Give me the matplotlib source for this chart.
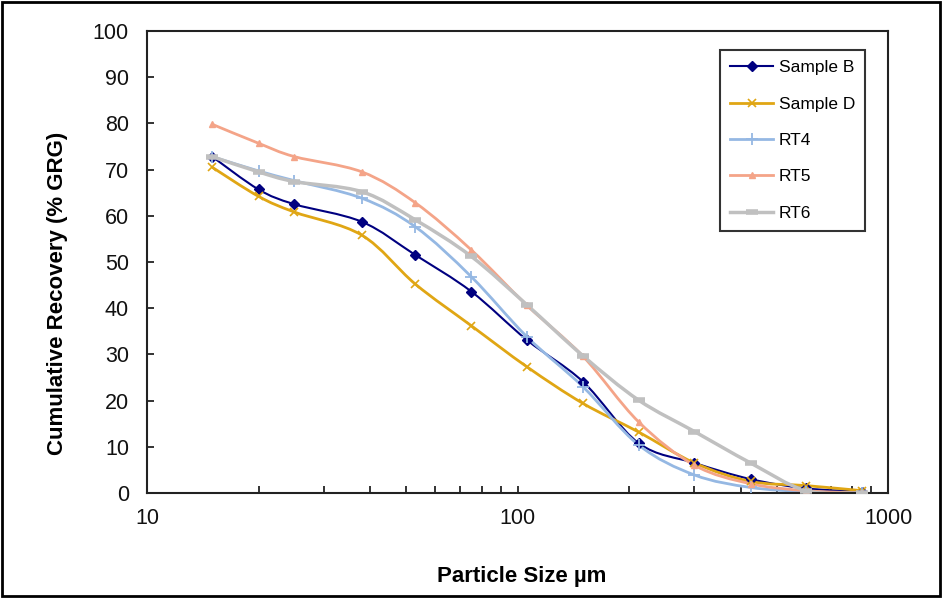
import matplotlib
matplotlib.use('Agg')
import matplotlib.pyplot as plt
import numpy as np
from matplotlib.path import Path
from matplotlib.patches import PathPatch, Rectangle
from matplotlib.lines import Line2D
from matplotlib.ticker import FuncFormatter, NullFormatter, LogLocator

plt.rcParams['font.family'] = ['Liberation Sans', 'DejaVu Sans']

# sieve sizes (um)
sizes = [15, 20, 25, 38, 53, 75, 106, 150, 212, 300, 425, 600, 850]

# cumulative recovery (% GRG)
sample_b = [72.8, 65.7, 62.5, 58.7, 51.5, 43.6, 33.1, 24.1, 10.8, 6.5, 3.0, 1.0, 0.3]
sample_d = [70.5, 64.2, 60.8, 55.8, 45.2, 36.2, 27.3, 19.4, 13.2, 6.5, 2.5, 1.6, 0.5]
rt4 = [72.8, 69.7, 67.6, 63.8, 57.6, 46.8, 33.8, 23.0, 10.4, 3.9, 1.2, 0.3, 0.0]
rt5 = [79.8, 75.7, 72.8, 69.5, 62.8, 52.6, 40.6, 29.6, 15.4, 6.0, 2.0, 0.5, 0.0]
rt6 = [72.8, 69.5, 67.4, 65.2, 59.1, 51.2, 40.7, 29.7, 20.1, 13.3, 6.5, 0.5, 0.0]

series = [
    ('Sample B', sample_b, '#000080', 'D', 5, 1.0, 1.5),
    ('Sample D', sample_d, '#E0A614', 'x', 6, 1.2, 2.0),
    ('RT4', rt4, '#95B8E3', '+', 9, 1.3, 2.0),
    ('RT5', rt5, '#F4A488', '^', 5, 1.0, 2.0),
    ('RT6', rt6, '#C0C0C0', '_', 8, 4.0, 2.5),
]


def smooth_path(xs, ys):
    # Excel style smoothed line: Catmull-Rom bezier in log-x space
    u = np.log10(np.asarray(xs, float))
    v = np.asarray(ys, float)
    pts = np.column_stack([u, v])
    n = len(pts)
    verts = [pts[0]]
    codes = [Path.MOVETO]
    for i in range(n - 1):
        p0 = pts[i - 1] if i > 0 else pts[i]
        p1 = pts[i]
        p2 = pts[i + 1]
        p3 = pts[i + 2] if i + 2 < n else pts[i + 1]
        c1 = p1 + (p2 - p0) / 6.0
        c2 = p2 - (p3 - p1) / 6.0
        verts += [c1, c2, p2]
        codes += [Path.CURVE4] * 3
    verts = np.array(verts)
    verts[:, 0] = 10 ** verts[:, 0]
    return Path(verts, codes)


fig = plt.figure(figsize=(9.42, 5.98), dpi=100)
ax = fig.add_axes([0.156, 0.1756, 0.787, 0.7726])

handles = []
for name, vals, col, mk, ms, mew, lw in series:
    ax.add_patch(PathPatch(smooth_path(sizes, vals), fill=False,
                           edgecolor=col, linewidth=lw, zorder=2))
    ax.plot(sizes, vals, linestyle='none', marker=mk, markersize=ms,
            color=col, markeredgewidth=mew, zorder=3)
    handles.append(Line2D([], [], color=col, linewidth=lw, marker=mk,
                          markersize=ms, markeredgewidth=mew, label=name))

ax.set_xscale('log')
ax.set_xlim(10, 1000)
ax.set_ylim(0, 100)
ax.set_yticks(np.arange(0, 101, 10))
ax.xaxis.set_major_locator(LogLocator(base=10))
ax.xaxis.set_minor_locator(LogLocator(base=10, subs=np.arange(2, 10)))
ax.xaxis.set_major_formatter(FuncFormatter(lambda v, p: '%g' % v))
ax.xaxis.set_minor_formatter(NullFormatter())

ax.tick_params(axis='both', which='both', direction='in', length=5,
               width=1.2, labelsize=15.5, colors='#111111')
ax.tick_params(axis='x', which='both', pad=11)
ax.tick_params(axis='y', pad=13)
for s in ax.spines.values():
    s.set_linewidth(1.5)
    s.set_color('#222222')

ax.set_xlabel('Particle Size µm', fontsize=16, fontweight='bold')
ax.set_ylabel('Cumulative Recovery (% GRG)', fontsize=16, fontweight='bold')
ax.xaxis.set_label_coords(0.505, -0.157)
ax.yaxis.set_label_coords(-0.106, 0.433)

leg = ax.legend(handles=handles, loc='upper right',
                bbox_to_anchor=(0.969, 0.959), borderaxespad=0,
                fontsize=12.5, frameon=True, fancybox=False,
                edgecolor='black', handlelength=2.5, labelspacing=1.22,
                borderpad=0.6, handletextpad=0.3)
leg.get_frame().set_linewidth(1.5)

# outer border round the whole picture
fig.patches.append(Rectangle((0.002, 0.003), 0.996, 0.994, fill=False,
                             edgecolor='black', linewidth=2,
                             transform=fig.transFigure, figure=fig))

plt.savefig('out.png', dpi=100)
